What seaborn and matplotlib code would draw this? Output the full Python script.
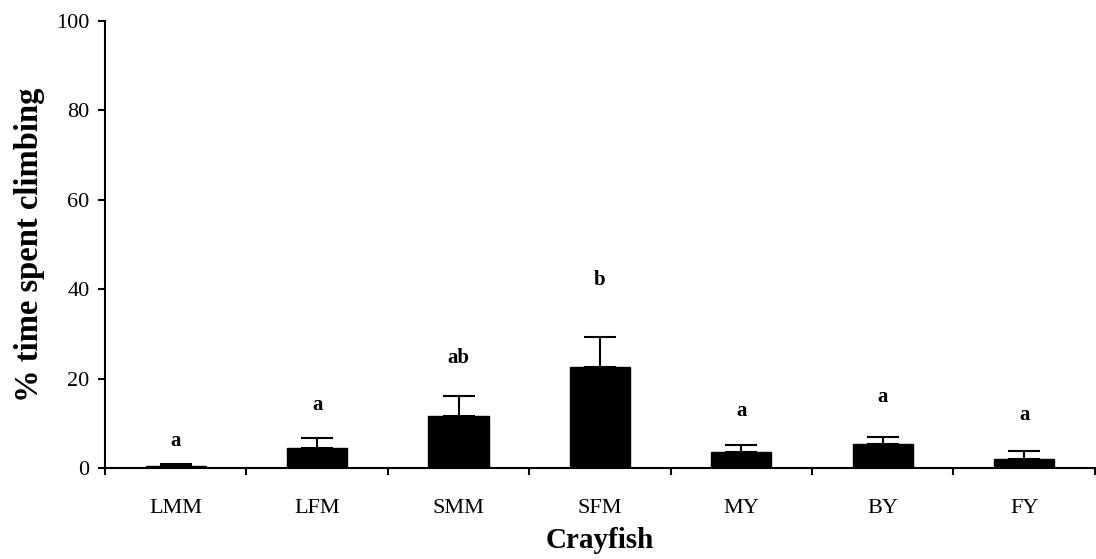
import matplotlib
matplotlib.use("Agg")
import matplotlib.pyplot as plt
import numpy as np
import pandas as pd
import seaborn as sns

# values
groups = ["LMM", "LFM", "SMM", "SFM", "MY", "BY", "FY"]
mean_climb = [0.5, 4.5, 11.7, 22.7, 3.6, 5.4, 2.1]
se_climb = [0.3, 2.1, 4.3, 6.7, 1.6, 1.6, 1.8]
sig_letters = ["a", "a", "ab", "b", "a", "a", "a"]
letter_y = [6.0, 14.2, 24.5, 42.0, 12.7, 15.9, 11.9]
y_ticks = [0, 20, 40, 60, 80, 100]

sns.set_style("ticks")
plt.rcParams["font.family"] = ["Liberation Serif", "DejaVu Serif"]
plt.rcParams.update({"text.color": "black", "axes.labelcolor": "black",
                     "xtick.color": "black", "ytick.color": "black",
                     "axes.edgecolor": "black"})

df = pd.DataFrame({"group": groups, "climb": mean_climb, "se": se_climb})

fig = plt.figure(figsize=(10.96, 5.59), dpi=100)
ax = fig.add_axes([0.0958, 0.1628, 0.9032, 0.7996])

sns.barplot(data=df, x="group", y="climb", order=groups, color="black",
            edgecolor="black", width=0.425, errorbar=None, saturation=1, ax=ax)

# upper-only error bars (SE)
x = np.arange(len(groups))
ax.errorbar(x, df["climb"], yerr=[np.zeros(len(groups)), df["se"]],
            fmt="none", ecolor="black", elinewidth=1.5, capsize=11.5, capthick=1.5,
            zorder=1)

for xi, lab, ly in zip(x, sig_letters, letter_y):
    ax.text(xi, ly, lab, ha="center", va="center", fontsize=15, fontweight="bold")

ax.set_xlim(-0.5, len(groups) - 0.5)
ax.set_ylim(0, 100)
ax.set_yticks(y_ticks)
ax.set_yticklabels([str(t) for t in y_ticks], fontsize=16)

# ticks sit between the categories, labels centred under the bars
ax.set_xticks(np.arange(-0.5, len(groups), 1.0))
ax.set_xticklabels([])
ax.set_xticks(x, minor=True)
ax.set_xticklabels(groups, minor=True, fontsize=16)
ax.tick_params(axis="x", which="major", direction="out", length=5, width=1.5)
ax.tick_params(axis="x", which="minor", length=0, pad=22)
ax.tick_params(axis="y", direction="out", length=5, width=1.5, pad=6)

for side in ["top", "right"]:
    ax.spines[side].set_visible(False)
for side in ["left", "bottom"]:
    ax.spines[side].set_linewidth(1.5)

ax.set_xlabel("Crayfish", fontsize=21, fontweight="bold", labelpad=7)
ax.set_ylabel("% time spent climbing", fontsize=23.5, fontweight="bold", labelpad=8)

fig.savefig("out.png", dpi=100)
